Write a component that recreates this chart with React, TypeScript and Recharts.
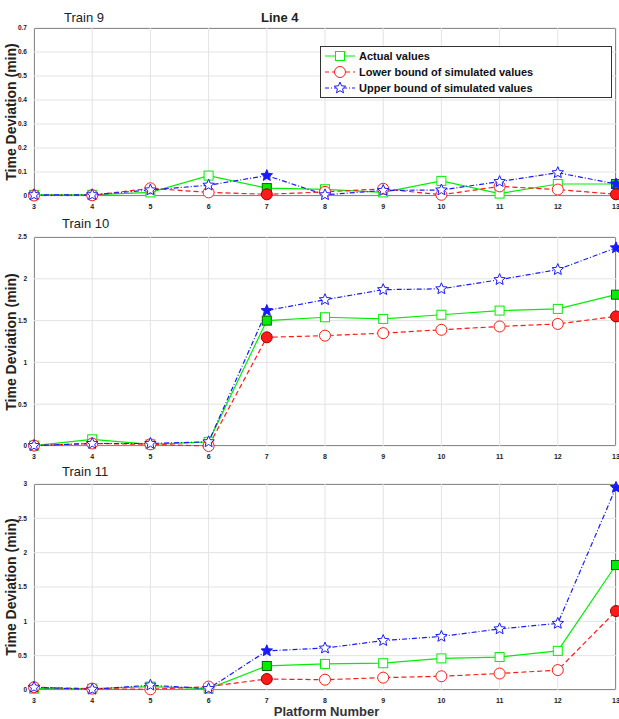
import React from "react";
import { LineChart, Line, XAxis, YAxis, CartesianGrid } from "recharts";

const platforms = [3, 4, 5, 6, 7, 8, 9, 10, 11, 12, 13];
const filledAt = [7, 13];

const t9Actual = [0.005, 0.005, 0.015, 0.085, 0.033, 0.028, 0.015, 0.063, 0.01, 0.05, 0.05];
const t9Lower = [0.002, 0.003, 0.032, 0.015, 0.007, 0.017, 0.03, 0.005, 0.04, 0.027, 0.007];
const t9Upper = [0.005, 0.005, 0.025, 0.045, 0.085, 0.005, 0.023, 0.025, 0.06, 0.097, 0.05];

const t10Actual = [0.005, 0.08, 0.02, 0.05, 1.5, 1.54, 1.52, 1.57, 1.62, 1.64, 1.81];
const t10Lower = [0.005, 0.03, 0.02, 0.0, 1.3, 1.32, 1.35, 1.39, 1.43, 1.46, 1.55];
const t10Upper = [0.005, 0.03, 0.03, 0.05, 1.62, 1.75, 1.87, 1.88, 1.99, 2.11, 2.37];

const t11Actual = [0.02, 0.02, 0.05, 0.02, 0.35, 0.38, 0.39, 0.46, 0.48, 0.57, 1.82];
const t11Lower = [0.04, 0.02, 0.01, 0.05, 0.16, 0.15, 0.18, 0.2, 0.24, 0.29, 1.15];
const t11Upper = [0.04, 0.01, 0.07, 0.02, 0.57, 0.61, 0.72, 0.78, 0.89, 0.97, 2.95];

const ticks9 = [0, 0.1, 0.2, 0.3, 0.4, 0.5, 0.6, 0.7];
const ticks10 = [0, 0.5, 1, 1.5, 2, 2.5];
const ticks11 = [0, 0.5, 1, 1.5, 2, 2.5, 3];

const GREEN = "#00ee00";
const RED = "#ff1a1a";
const BLUE = "#1a1aff";
const FONT = "Arial, 'Liberation Sans', sans-serif";

function build(a: number[], l: number[], u: number[]) {
  return platforms.map((p, i) => ({ p, actual: a[i], lower: l[i], upper: u[i] }));
}

function starPath(cx: number, cy: number, r: number) {
  const pts: string[] = [];
  for (let i = 0; i < 10; i++) {
    const rad = i % 2 === 0 ? r : r * 0.45;
    const ang = -Math.PI / 2 + (i * Math.PI) / 5;
    pts.push(`${cx + rad * Math.cos(ang)},${cy + rad * Math.sin(ang)}`);
  }
  return "M" + pts.join("L") + "Z";
}

const SquareDot = (props: any) => {
  const { cx, cy, payload } = props;
  const f = filledAt.includes(payload.p);
  return <rect key={`s${payload.p}`} x={cx - 4.5} y={cy - 4.5} width={9} height={9} fill={f ? GREEN : "#fff"} stroke={f ? "#006600" : GREEN} strokeWidth={1} />;
};
const CircleDot = (props: any) => {
  const { cx, cy, payload } = props;
  const f = filledAt.includes(payload.p);
  return <circle key={`c${payload.p}`} cx={cx} cy={cy} r={5.5} fill={f ? RED : "#fff"} stroke={f ? "#990000" : RED} strokeWidth={1} />;
};
const StarDot = (props: any) => {
  const { cx, cy, payload } = props;
  const f = filledAt.includes(payload.p);
  return <path key={`t${payload.p}`} d={starPath(cx, cy, 6)} fill={f ? BLUE : "#fff"} stroke={BLUE} strokeWidth={1} />;
};

function Panel({ top, height, mTop, data, ticks, max }: any) {
  const plotH = height - mTop - 14;
  return (
    <div style={{ position: "absolute", left: 0, top, width: 619, height }}>
      <div style={{ position: "absolute", left: 34, top: mTop, width: 582, height: plotH, border: "1px solid #333", boxSizing: "border-box" }} />
      <LineChart width={619} height={height} data={data} margin={{ top: mTop, right: 3, bottom: 2, left: 4 }}>
        <CartesianGrid stroke="#e3e3e3" />
        <XAxis dataKey="p" type="number" domain={[3, 13]} ticks={platforms} height={12} tickLine={false} axisLine={false}
          tick={{ fontSize: 7, fill: "#222", fontWeight: 700, fontFamily: FONT }} tickMargin={2} interval={0} />
        <YAxis domain={[0, max]} ticks={ticks} width={30} tickLine={false} axisLine={false} interval={0}
          tick={{ fontSize: 6.5, fill: "#222", fontWeight: 700, fontFamily: FONT }} tickMargin={1} />
        <Line dataKey="actual" stroke={GREEN} strokeWidth={1.2} dot={SquareDot} isAnimationActive={false} />
        <Line dataKey="lower" stroke={RED} strokeWidth={1.2} strokeDasharray="5 3" dot={CircleDot} isAnimationActive={false} />
        <Line dataKey="upper" stroke={BLUE} strokeWidth={1.2} strokeDasharray="5 2 1 2" dot={StarDot} isAnimationActive={false} />
      </LineChart>
      <div style={{ position: "absolute", left: 11, top: mTop + plotH / 2, transform: "translate(-50%,-50%) rotate(-90deg)", whiteSpace: "nowrap", fontFamily: FONT, fontWeight: 700, fontSize: 14, lineHeight: "14px", color: "#222" }}>
        Time Deviation (min)
      </div>
    </div>
  );
}

function LegendRow({ sym, label }: any) {
  return (
    <div style={{ display: "flex", alignItems: "center", height: 16 }}>
      <svg width={30} height={14} style={{ marginRight: 4 }}>{sym}</svg>
      <span>{label}</span>
    </div>
  );
}

export default function App() {
  return (
    <div style={{ position: "fixed", left: 0, top: 0, width: 619, height: 719, background: "#fff", fontFamily: FONT }}>
      <Panel top={0} height={210} mTop={28} data={build(t9Actual, t9Lower, t9Upper)} ticks={ticks9} max={0.7} />
      <Panel top={210} height={250} mTop={27} data={build(t10Actual, t10Lower, t10Upper)} ticks={ticks10} max={2.5} />
      <Panel top={460} height={244} mTop={24} data={build(t11Actual, t11Lower, t11Upper)} ticks={ticks11} max={3} />
      <div style={{ position: "absolute", left: 64, top: 10, fontSize: 13, color: "#222" }}>Train 9</div>
      <div style={{ position: "absolute", left: 261, top: 10, fontSize: 13, fontWeight: 700, color: "#222" }}>Line 4</div>
      <div style={{ position: "absolute", left: 62, top: 216, fontSize: 13, color: "#222" }}>Train 10</div>
      <div style={{ position: "absolute", left: 62, top: 464, fontSize: 13, color: "#222" }}>Train 11</div>
      <div style={{ position: "absolute", left: 0, width: 619, textAlign: "center", top: 705, lineHeight: "14px", paddingLeft: 34, boxSizing: "border-box", fontSize: 13, fontWeight: 700, color: "#333" }}>Platform Number</div>
      <div style={{ position: "absolute", left: 320, top: 46, width: 292, height: 52, border: "1px solid #333", background: "#fff", boxSizing: "border-box", padding: "1px 4px", fontSize: 11, fontWeight: 700, color: "#111" }}>
        <LegendRow label="Actual values" sym={<g><line x1={0} x2={30} y1={7} y2={7} stroke={GREEN} /><rect x={10.5} y={2.5} width={9} height={9} fill="#fff" stroke={GREEN} /></g>} />
        <LegendRow label="Lower bound of simulated values" sym={<g><line x1={0} x2={30} y1={7} y2={7} stroke={RED} strokeDasharray="4 3" /><circle cx={15} cy={7} r={5.5} fill="#fff" stroke={RED} /></g>} />
        <LegendRow label="Upper bound of simulated values" sym={<g><line x1={0} x2={30} y1={7} y2={7} stroke={BLUE} strokeDasharray="4 2 1 2" /><path d={starPath(15, 7, 6)} fill="#fff" stroke={BLUE} /></g>} />
      </div>
    </div>
  );
}
